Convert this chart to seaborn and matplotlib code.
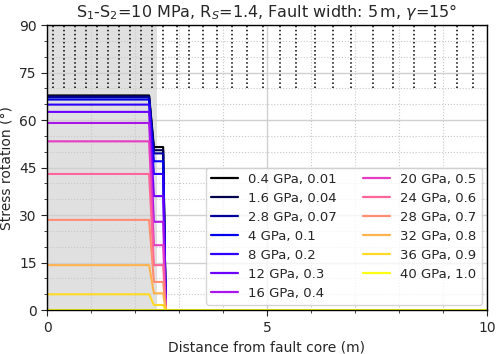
import numpy as np
import pandas as pd
import matplotlib
matplotlib.use("Agg")
import matplotlib.pyplot as plt
import seaborn as sns
from matplotlib.ticker import MultipleLocator

# ---- data ----
labels = ["0.4 GPa, 0.01", "1.6 GPa, 0.04", "2.8 GPa, 0.07", "4 GPa, 0.1",
          "8 GPa, 0.2", "12 GPa, 0.3", "16 GPa, 0.4", "20 GPa, 0.5",
          "24 GPa, 0.6", "28 GPa, 0.7", "32 GPa, 0.8", "36 GPa, 0.9",
          "40 GPa, 1.0"]
# rotation inside damage zone (first plateau) and near its edge (second plateau)
core_rot = [67.8, 67.6, 67.2, 66.5, 64.9, 62.6, 59.1, 53.3, 43.0, 28.5, 14.2, 5.0, 0.0]
edge_rot = [51.5, 50.5, 49.5, 47.0, 43.0, 36.0, 27.9, 20.5, 14.2, 8.9, 5.3, 1.6, 0.0]
# distance breakpoints of the profiles (m)
x_break = [0.0, 2.32, 2.43, 2.64, 2.70, 10.0]
# fracture marker positions (m)
fractures = [0.125, 0.375, 0.625, 0.875, 1.125, 1.375, 1.625, 1.875, 2.125, 2.375,
             2.625, 2.96, 3.23, 3.54, 3.86, 4.2, 4.55, 4.92, 5.3, 5.67, 6.08,
             6.5, 6.92, 7.42, 7.87, 8.33, 8.82, 9.31, 9.69]
damage_zone = 2.5

rows = []
for lab, a, b in zip(labels, core_rot, edge_rot):
    ys = [a, a, b, b, 0.0, 0.0]
    for i, (x, y) in enumerate(zip(x_break, ys)):
        rows.append({"x": x, "y": y, "label": lab, "order": i})
df = pd.DataFrame(rows)

sns.set_style("ticks")
plt.rcParams["font.family"] = ["DejaVu Sans"]
plt.rcParams["xtick.direction"] = "out"
plt.rcParams["ytick.direction"] = "out"

cmap = matplotlib.colormaps["gnuplot2"]
palette = [cmap(i / 13) for i in range(len(labels))]

fig = plt.figure(figsize=(5.0, 3.54), dpi=100)
ax = fig.add_axes([0.094, 0.124, 0.880, 0.805])

ax.axvspan(0, damage_zone, color="#e0e0e0", zorder=0, lw=0)
ax.vlines(fractures, 70, 90, colors="k", linestyles=":", lw=1.1, zorder=1.5)

sns.lineplot(data=df, x="x", y="y", hue="label", hue_order=labels,
             palette=palette, sort=False, estimator=None, units="label",
             lw=1.5, ax=ax, legend=True)

ax.set_xlim(0, 10)
ax.set_ylim(0, 90)
ax.xaxis.set_major_locator(MultipleLocator(5))
ax.xaxis.set_minor_locator(MultipleLocator(1))
ax.yaxis.set_major_locator(MultipleLocator(15))
ax.yaxis.set_minor_locator(MultipleLocator(5))
ax.set_axisbelow(True)
ax.grid(which="major", color="#d0d0d0", lw=1.0, ls="-")
ax.grid(which="minor", color="#c8c8c8", lw=0.8, ls=":")
ax.tick_params(which="major", length=4, labelsize=10)
ax.tick_params(which="minor", length=2)
for s in ax.spines.values():
    s.set_color("black")
    s.set_linewidth(1.0)

ax.set_xlabel("Distance from fault core (m)", fontsize=10)
ax.set_ylabel("Stress rotation (°)", fontsize=10)
ax.set_title(r"S$_1$-S$_2$=10 MPa, R$_S$=1.4, Fault width: 5$\,$m, $\gamma$=15°",
             fontsize=11.5)

leg = ax.legend(loc="lower right", ncol=2, fontsize=9.5, labelspacing=0.45,
                framealpha=0.8, borderaxespad=0.4)
for h in leg.get_lines():
    h.set_linewidth(1.6)

fig.savefig("out.png", dpi=100)
